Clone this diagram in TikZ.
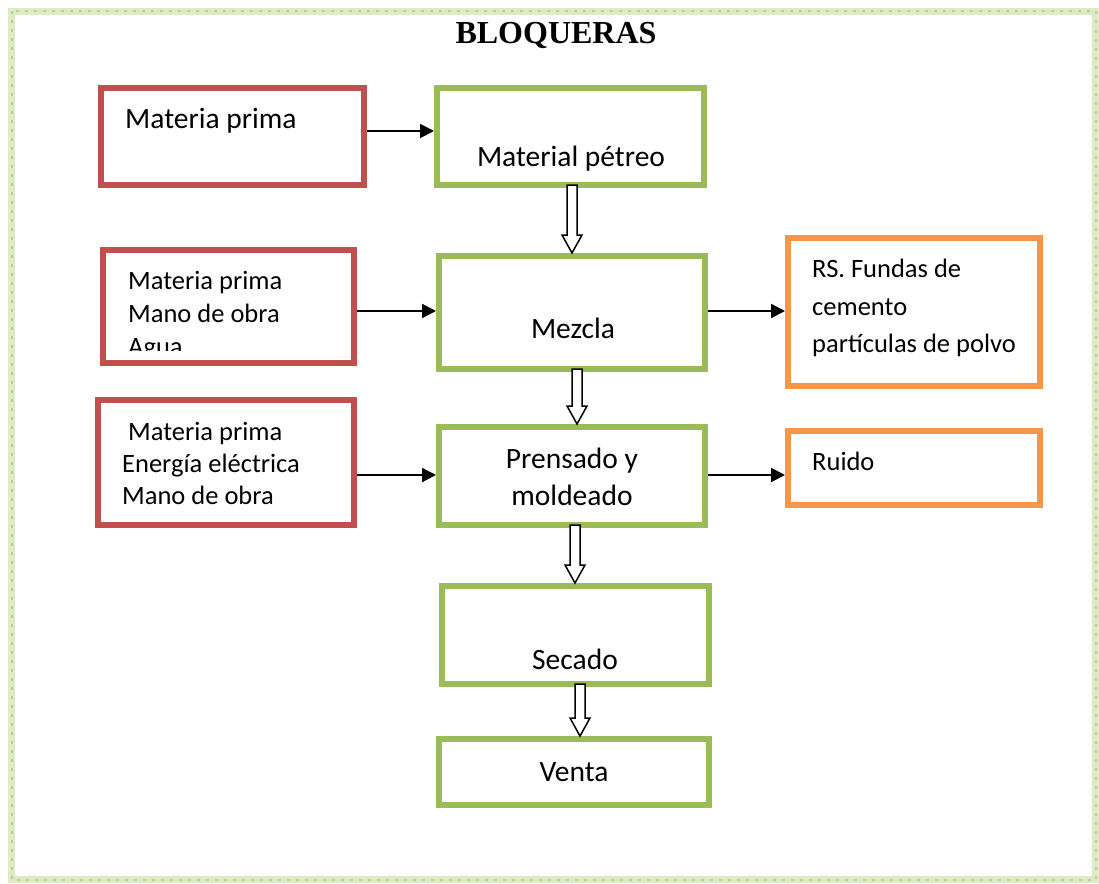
\documentclass[tikz,border=0pt]{standalone}
\usepackage{fontspec}
\setmainfont{Carlito}
\newfontfamily\titlefont{Liberation Serif}
\usetikzlibrary{arrows.meta,calc}
\definecolor{bred}{HTML}{C0504D}
\definecolor{bgreen}{HTML}{9BBB59}
\definecolor{borange}{HTML}{F79646}
\definecolor{bandlight}{HTML}{DCEAC6}
\newcommand\hollowarrow[3]{%
  \draw[hollow] let \p1=(#1), \p2=(#2) in
    (\x1+#3-5pt,\y1+3pt) -- (\x1+#3-5pt,\y2+18pt) -- (\x1+#3-10pt,\y2+18pt)
    -- (\x1+#3,\y2) -- (\x1+#3+10pt,\y2+18pt) -- (\x1+#3+5pt,\y2+18pt)
    -- (\x1+#3+5pt,\y1+3pt) -- cycle;}
\begin{document}
\begin{tikzpicture}[x=1pt,y=-1pt,
  box/.style={draw,line width=6pt,fill=white,inner sep=0pt,rectangle},
  redbox/.style={box,draw=bred},
  greenbox/.style={box,draw=bgreen},
  orangebox/.style={box,draw=borange},
  txt/.style={inner sep=0pt,font=\fontsize{26.5}{32}\selectfont},
  bigtxt/.style={inner sep=0pt,font=\fontsize{29.5}{37}\selectfont},
  arr/.style={line width=2pt,-{Triangle[length=14pt,width=14pt]}},
  hollow/.style={draw=black,fill=white,line width=1.5pt,line join=miter}
]
\useasboundingbox (0,0) rectangle (1099,883);
% decorative border
\draw[line width=7pt,draw=bandlight] (11.5,11.5) rectangle (1095.5,879.5);
\draw[line width=2pt,draw=bgreen!70,dash pattern=on 3pt off 6pt] (11.5,11.5) rectangle (1095.5,879.5);
% title
\node[inner sep=0pt,anchor=base,font=\titlefont\fontsize{32}{36}\selectfont\bfseries] (title) at (556,44) {BLOQUERAS};
% boxes
\node[redbox,minimum width=263pt,minimum height=97pt] (mp1) at (232.5,136.5) {};
\node[greenbox,minimum width=267pt,minimum height=97pt] (pet) at (570.5,136.5) {};
\node[redbox,minimum width=251pt,minimum height=113pt] (mp2) at (228.5,306.5) {};
\node[greenbox,minimum width=266pt,minimum height=113pt] (mez) at (572,312.5) {};
\node[orangebox,minimum width=252pt,minimum height=148pt] (rs) at (914,312) {};
\node[redbox,minimum width=256pt,minimum height=125pt] (mp3) at (226,462.5) {};
\node[greenbox,minimum width=266pt,minimum height=98pt] (pre) at (572,476) {};
\node[orangebox,minimum width=252pt,minimum height=74pt] (rui) at (914,468) {};
\node[greenbox,minimum width=267pt,minimum height=98pt] (sec) at (575.5,635) {};
\node[greenbox,minimum width=270pt,minimum height=66pt] (ven) at (574,772) {};
% texts
\node[bigtxt,anchor=base west] (t1) at (125,128) {Materia prima};
\node[bigtxt,anchor=base] (t2) at (571,166) {Material pétreo};
\node[txt,anchor=base west] (t3a) at (128,289) {Materia prima};
\node[txt,anchor=base west] (t3b) at (128,322) {Mano de obra};
\begin{scope}
  \clip (mp2.north west) rectangle ($(mp2.east)+(0,43.5)$);
  \node[txt,anchor=base west] (t3c) at (128,355) {Agua};
\end{scope}
\node[bigtxt,anchor=base] (t4) at (573,338) {Mezcla};
\node[txt,anchor=base west] (t5a) at (812,277) {RS. Fundas de};
\node[txt,anchor=base west] (t5b) at (812,315) {cemento};
\node[txt,anchor=base west] (t5c) at (812,352) {partículas de polvo};
\node[txt,anchor=base west] (t6a) at (128,440) {Materia prima};
\node[txt,anchor=base west] (t6b) at (122,472) {Energía eléctrica};
\node[txt,anchor=base west] (t6c) at (122,504) {Mano de obra};
\node[bigtxt,anchor=base] (t7a) at (572,468) {Prensado y};
\node[bigtxt,anchor=base] (t7b) at (572,505) {moldeado};
\node[txt,anchor=base west] (t8) at (812,470) {Ruido};
\node[bigtxt,anchor=base] (t9) at (575,669) {Secado};
\node[bigtxt,anchor=base] (t10) at (574,781) {Venta};
% horizontal arrows
\draw[arr] ([yshift=5.5pt]mp1.east) -- ([yshift=5.5pt]pet.west);
\draw[arr] ([yshift=-4.5pt]mp2.east) -- ([yshift=1.5pt]mez.west);
\draw[arr] ([yshift=1.5pt]mez.east) -- ([yshift=1pt]rs.west);
\draw[arr] ([yshift=-12.5pt]mp3.east) -- ([yshift=1pt]pre.west);
\draw[arr] ([yshift=1pt]pre.east) -- ([yshift=-7pt]rui.west);
% hollow arrows
\hollowarrow{pet.south}{mez.north}{1.5pt}
\hollowarrow{mez.south}{pre.north}{5pt}
\hollowarrow{pre.south}{sec.north}{3pt}
\hollowarrow{sec.south}{ven.north}{4.5pt}
\end{tikzpicture}
\end{document}
